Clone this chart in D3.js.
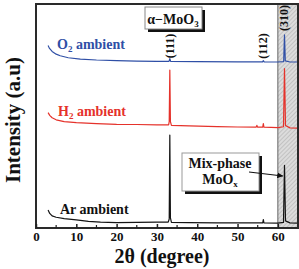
<!DOCTYPE html>
<html><head><meta charset="utf-8">
<script src="https://cdn.jsdelivr.net/npm/d3@7"></script>
<style>body{margin:0;background:#fff}svg{display:block}text{font-family:"Liberation Serif","Times New Roman",serif;font-weight:bold}</style>
</head><body>
<script>
// ---- data (2θ in degrees, intensity in arbitrary units with vertical offsets) ----
const xTicks = [0, 10, 20, 30, 40, 50, 60];
const minorTicks = [5, 15, 25, 35, 45, 55];
const seriesNames = ["Ar ambient", "H2 ambient", "O2 ambient"];
const arTheta = [3,3.4,4,5,7,10,13,16,20,25,30,32.8,33.05,33.2,33.35,33.6,38,45,50,55,56.25,56.4,56.55,60,61.4,61.65,61.9,63,65];
const arInt   = [8.0,6.5,5.4,4.8,4.2,3.6,3.0,2.6,2.4,2.5,2.6,2.6,4.0,41.5,4.5,2.5,2.4,2.3,2.3,2.3,2.3,3.8,2.3,2.2,2.5,28,3.2,2.3,2.2];
const h2Theta = [3,3.4,4,5,7,10,15,20,25,30,32.9,33.05,33.2,33.35,33.6,38,45,50,54.6,54.8,55.0,56.25,56.4,56.55,60,61.4,61.65,61.9,63,65];
const h2Int   = [51.5,50.3,49.2,48.3,47.5,47.0,46.6,46.3,46.2,46.0,46.0,47.5,70.5,47.5,45.8,45.6,45.3,45.1,45.0,45.8,45.0,45.0,46.6,45.0,44.8,45.2,71.2,45.8,44.7,44.6];
const o2Theta = [3,3.3,4,5,6,8,11,15,20,25,30,33.0,33.2,33.4,40,50,56.2,56.4,56.6,60,61.45,61.65,61.85,63,65];
const o2Int   = [81.5,80.3,78.8,77.6,76.9,76.0,75.4,75.0,74.7,74.5,74.4,74.4,75.6,74.4,74.3,74.2,74.2,74.7,74.2,74.1,74.3,86.2,74.6,74.1,74.1];
const peakLabels = ["(111)", "(112)", "(310)"];
const peakPos = [33.2, 56.4, 61.65];
const mixRange = [60, 65];

const W = 299, H = 269;
const svg = d3.select("body").append("svg").attr("width", W).attr("height", H);
const m = {l: 36, r: 298, t: 4, b: 228};
const x = d3.scaleLinear().domain([0, 65]).range([m.l, m.r]);
const y = d3.scaleLinear().domain([0, 100]).range([m.b, m.t]);

// hatch pattern
const defs = svg.append("defs");
const pat = defs.append("pattern").attr("id","hatch").attr("patternUnits","userSpaceOnUse")
  .attr("width",3).attr("height",3).attr("patternTransform","rotate(45)");
pat.append("rect").attr("width",3).attr("height",3).attr("fill","#dcdcdc");
pat.append("line").attr("x1",0).attr("y1",0).attr("x2",0).attr("y2",3).attr("stroke","#a8a8a8").attr("stroke-width",1);
defs.append("marker").attr("id","arr").attr("viewBox","0 0 10 10").attr("refX",9).attr("refY",5)
  .attr("markerWidth",5).attr("markerHeight",5).attr("orient","auto")
  .append("path").attr("d","M0,0L10,5L0,10z").attr("fill","#111");

svg.append("rect").attr("x", x(mixRange[0])).attr("y", m.t).attr("width", x(mixRange[1]) - x(mixRange[0]))
  .attr("height", m.b - m.t).attr("fill","url(#hatch)");
svg.append("line").attr("x1", x(mixRange[0])).attr("x2", x(mixRange[0])).attr("y1", m.t).attr("y2", m.b)
  .attr("stroke","#666").attr("stroke-width",1);

const line = d3.line().x(d => x(d[0])).y(d => y(d[1]));
const series = [
  {th: arTheta, v: arInt, c: "#141414"},
  {th: h2Theta, v: h2Int, c: "#e5322b"},
  {th: o2Theta, v: o2Int, c: "#2f4fa6"}
];
series.forEach(s => {
  svg.append("path").datum(s.th.map((t,i)=>[t, s.v[i]])).attr("d", line)
    .attr("fill","none").attr("stroke", s.c).attr("stroke-width",1.2).attr("stroke-linejoin","round");
});

// frame
svg.append("rect").attr("x", m.l).attr("y", m.t).attr("width", m.r - m.l).attr("height", m.b - m.t)
  .attr("fill","none").attr("stroke","#2a2a2a").attr("stroke-width",2);

// bottom axis
const ax = svg.append("g").attr("transform", `translate(0,${m.b})`)
  .call(d3.axisBottom(x).tickValues(xTicks).tickSize(-4).tickPadding(4).tickFormat(d3.format("d")));
ax.select(".domain").remove();
ax.selectAll("text").attr("font-size",13).attr("fill","#111").style("font-family","Liberation Serif").style("font-weight","bold");
ax.selectAll("line").attr("stroke","#222").attr("stroke-width",1.5);
svg.append("g").selectAll("line").data(minorTicks).join("line")
  .attr("x1", d=>x(d)).attr("x2", d=>x(d)).attr("y1", m.b).attr("y2", m.b-3).attr("stroke","#222").attr("stroke-width",1.2);

// axis titles
svg.append("text").attr("x", 162).attr("y", 263).attr("text-anchor","middle").attr("font-size",20).attr("fill","#111").text("2θ (degree)");
svg.append("text").attr("transform","translate(20,120) rotate(-90)").attr("text-anchor","middle").attr("font-size",21).attr("fill","#111").text("Intensity (a.u)");

// series labels
function subLabel(xp, yp, main, sub, rest, col){
  const t = svg.append("text").attr("x", xp).attr("y", yp).attr("font-size",14).attr("fill",col);
  t.append("tspan").text(main);
  t.append("tspan").attr("font-size",9).attr("dy",3).text(sub);
  t.append("tspan").attr("dy",-3).text(rest);
}
subLabel(57, 49, "O", "2", " ambient", "#2f4fa6");
subLabel(58, 116, "H", "2", " ambient", "#e5322b");
svg.append("text").attr("x", 60).attr("y", 214).attr("font-size",14).attr("fill","#111").text(seriesNames[0]);

// alpha-MoO3 box
svg.append("rect").attr("x",148).attr("y",10).attr("width",57).attr("height",22).attr("fill","#111");
svg.append("rect").attr("x",145).attr("y",7).attr("width",57).attr("height",22).attr("fill","#fff").attr("stroke","#888").attr("stroke-width",1);
(function(){
  const t = svg.append("text").attr("x",173).attr("y",24).attr("text-anchor","middle").attr("font-size",14).attr("fill","#111");
  t.append("tspan").text("α−MoO");
  t.append("tspan").attr("font-size",9).attr("dy",3).text("3");
})();

// peak labels
const peakY = [46, 46, 18];
peakLabels.forEach((p,i)=>{
  svg.append("text").attr("transform",`translate(${x(peakPos[i])+4},${peakY[i]}) rotate(-90)`)
    .attr("text-anchor","middle").attr("font-size",12).attr("fill","#111").text(p);
});

// Mix-phase box
svg.append("rect").attr("x",185).attr("y",156).attr("width",77).attr("height",38).attr("fill","#111");
svg.append("rect").attr("x",182).attr("y",153).attr("width",77).attr("height",38).attr("fill","#fff").attr("stroke","#999").attr("stroke-width",1);
svg.append("text").attr("x",220).attr("y",168).attr("text-anchor","middle").attr("font-size",14).attr("fill","#111").text("Mix-phase");
(function(){
  const t = svg.append("text").attr("x",220).attr("y",184).attr("text-anchor","middle").attr("font-size",14).attr("fill","#111");
  t.append("tspan").text("MoO");
  t.append("tspan").attr("font-size",9).attr("dy",3).text("x");
})();
svg.append("line").attr("x1",249).attr("y1",172).attr("x2",x(61.2)).attr("y2",176)
  .attr("stroke","#111").attr("stroke-width",1.2).attr("marker-end","url(#arr)");
</script>
</body></html>
